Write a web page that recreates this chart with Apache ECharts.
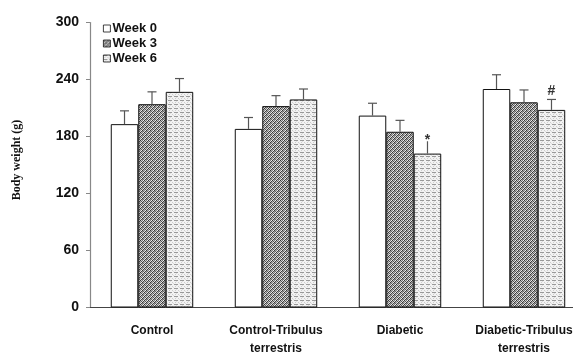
<!DOCTYPE html>
<html><head><meta charset="utf-8">
<script src="https://cdn.jsdelivr.net/npm/echarts@6/dist/echarts.min.js"></script>
<style>html,body{margin:0;padding:0;background:#fff;overflow:hidden}#c{width:573px;height:352px}</style>
</head><body><div id="c"></div>
<script>
const categories = ['Control', 'Control-Tribulus\nterrestris', 'Diabetic', 'Diabetic-Tribulus\nterrestris'];
const seriesNames = ['Week 0', 'Week 3', 'Week 6'];
const week0 = [193, 188, 202, 230];
const week3 = [214, 212, 185, 216];
const week6 = [227, 219, 162, 208];
const week0Err = [14, 12, 13, 15];
const week3Err = [13, 11, 12, 13];
const week6Err = [14, 11, 13, 11];
const week6Marks = ['', '', '*', '#'];
const yTicks = [0, 60, 120, 180, 240, 300];

function makePattern(w, h, fn) {
  const c = document.createElement('canvas');
  c.width = w; c.height = h;
  const ctx = c.getContext('2d');
  ctx.fillStyle = '#fff'; ctx.fillRect(0, 0, w, h);
  fn(ctx);
  return c;
}
const darkPat = makePattern(4, 4, ctx => {
  const m = ['#333','#ccc','#777','#eee',
             '#bbb','#555','#ddd','#444',
             '#888','#eee','#333','#aaa',
             '#ddd','#444','#999','#666'];
  for (let i = 0; i < 16; i++) { ctx.fillStyle = m[i]; ctx.fillRect(i % 4, Math.floor(i / 4), 1, 1); }
});
const lightPat = makePattern(6, 4, ctx => {
  ctx.fillStyle = '#f2f2f2'; ctx.fillRect(0, 0, 6, 4);
  ctx.fillStyle = '#999'; ctx.fillRect(0, 0, 4, 1);
  ctx.fillStyle = '#ccc'; ctx.fillRect(1, 2, 1, 1); ctx.fillRect(4, 2, 1, 1);
  ctx.fillStyle = '#ddd'; ctx.fillRect(2, 1, 1, 1); ctx.fillRect(5, 3, 1, 1);
});

const fills = ['#ffffff', { image: darkPat, repeat: 'repeat' }, { image: lightPat, repeat: 'repeat' }];
const values = [week0, week3, week6];
const errs = [week0Err, week3Err, week6Err];
const GAP = 0.335;

const series = [];
values.forEach((v, k) => {
  series.push({
    name: seriesNames[k], type: 'bar', data: v,
    barGap: '0%', barCategoryGap: (GAP * 100) + '%',
    itemStyle: { color: fills[k], borderColor: '#111', borderWidth: 1 },
    z: 2
  });
});
values.forEach((v, k) => {
  series.push({
    type: 'custom', name: 'err' + k, z: 3,
    data: v.map((val, i) => [i, val, val + errs[k][i], k === 2 ? week6Marks[i] : '']),
    renderItem: (params, api) => {
      const i = api.value(0);
      const base = api.coord([i, api.value(1)]);
      const top = api.coord([i, api.value(2)]);
      const cw = api.size([1, 0])[0];
      const bw = cw * (1 - GAP) / 3;
      const x = base[0] + (k - 1) * bw;
      const mark = api.value(3);
      const children = [
        { type: 'line', shape: { x1: x, y1: base[1], x2: x, y2: top[1] }, style: { stroke: '#555', lineWidth: 1.2 } }
      ];
      if (mark !== '*') {
        children.push({ type: 'line', shape: { x1: x - 4.5, y1: top[1], x2: x + 4.5, y2: top[1] }, style: { stroke: '#555', lineWidth: 1.2 } });
      }
      if (mark) {
        children.push({ type: 'text', style: { text: mark, x: x, y: mark === '*' ? top[1] + 6 : top[1] - 1, align: 'center', verticalAlign: 'bottom', font: 'bold 14px Arial', fill: '#333' } });
      }
      return { type: 'group', children };
    }
  });
});

const chart = echarts.init(document.getElementById('c'), null, { renderer: 'canvas' });
chart.setOption({
  animation: false,
  backgroundColor: '#fff',
  grid: { left: 90, width: 496, top: 22.5, height: 285, outerBoundsMode: 'none', containLabel: false },
  legend: {
    data: seriesNames, orient: 'vertical', left: 98, top: 17,
    icon: 'rect', itemWidth: 7, itemHeight: 7, itemGap: 2,
    textStyle: { fontFamily: 'Arial', fontWeight: 'bold', fontSize: 13, color: '#111', padding: [0, 0, 0, -3] },
    itemStyle: { borderColor: '#111', borderWidth: 0.8 }
  },
  xAxis: {
    type: 'category', data: categories,
    axisLine: { lineStyle: { color: '#444', width: 1 } },
    axisTick: { show: false },
    axisLabel: { fontFamily: 'Arial', fontWeight: 'bold', fontSize: 12, color: '#111', margin: 14, lineHeight: 18, interval: 0 }
  },
  yAxis: {
    type: 'value', min: yTicks[0], max: yTicks[yTicks.length - 1], interval: 60,
    name: 'Body weight (g)', nameLocation: 'middle', nameGap: 67,
    nameTextStyle: { fontFamily: 'Liberation Serif', fontWeight: 'bold', fontSize: 12, color: '#111', padding: [0, 0, 0, 10] },
    axisLine: { show: true, lineStyle: { color: '#888', width: 1.2 } },
    axisTick: { show: true, length: 4, lineStyle: { color: '#888' } },
    splitLine: { show: false },
    axisLabel: { fontFamily: 'Arial', fontWeight: 'bold', fontSize: 14, color: '#111', margin: 11 }
  },
  series
});
</script>
</body></html>
